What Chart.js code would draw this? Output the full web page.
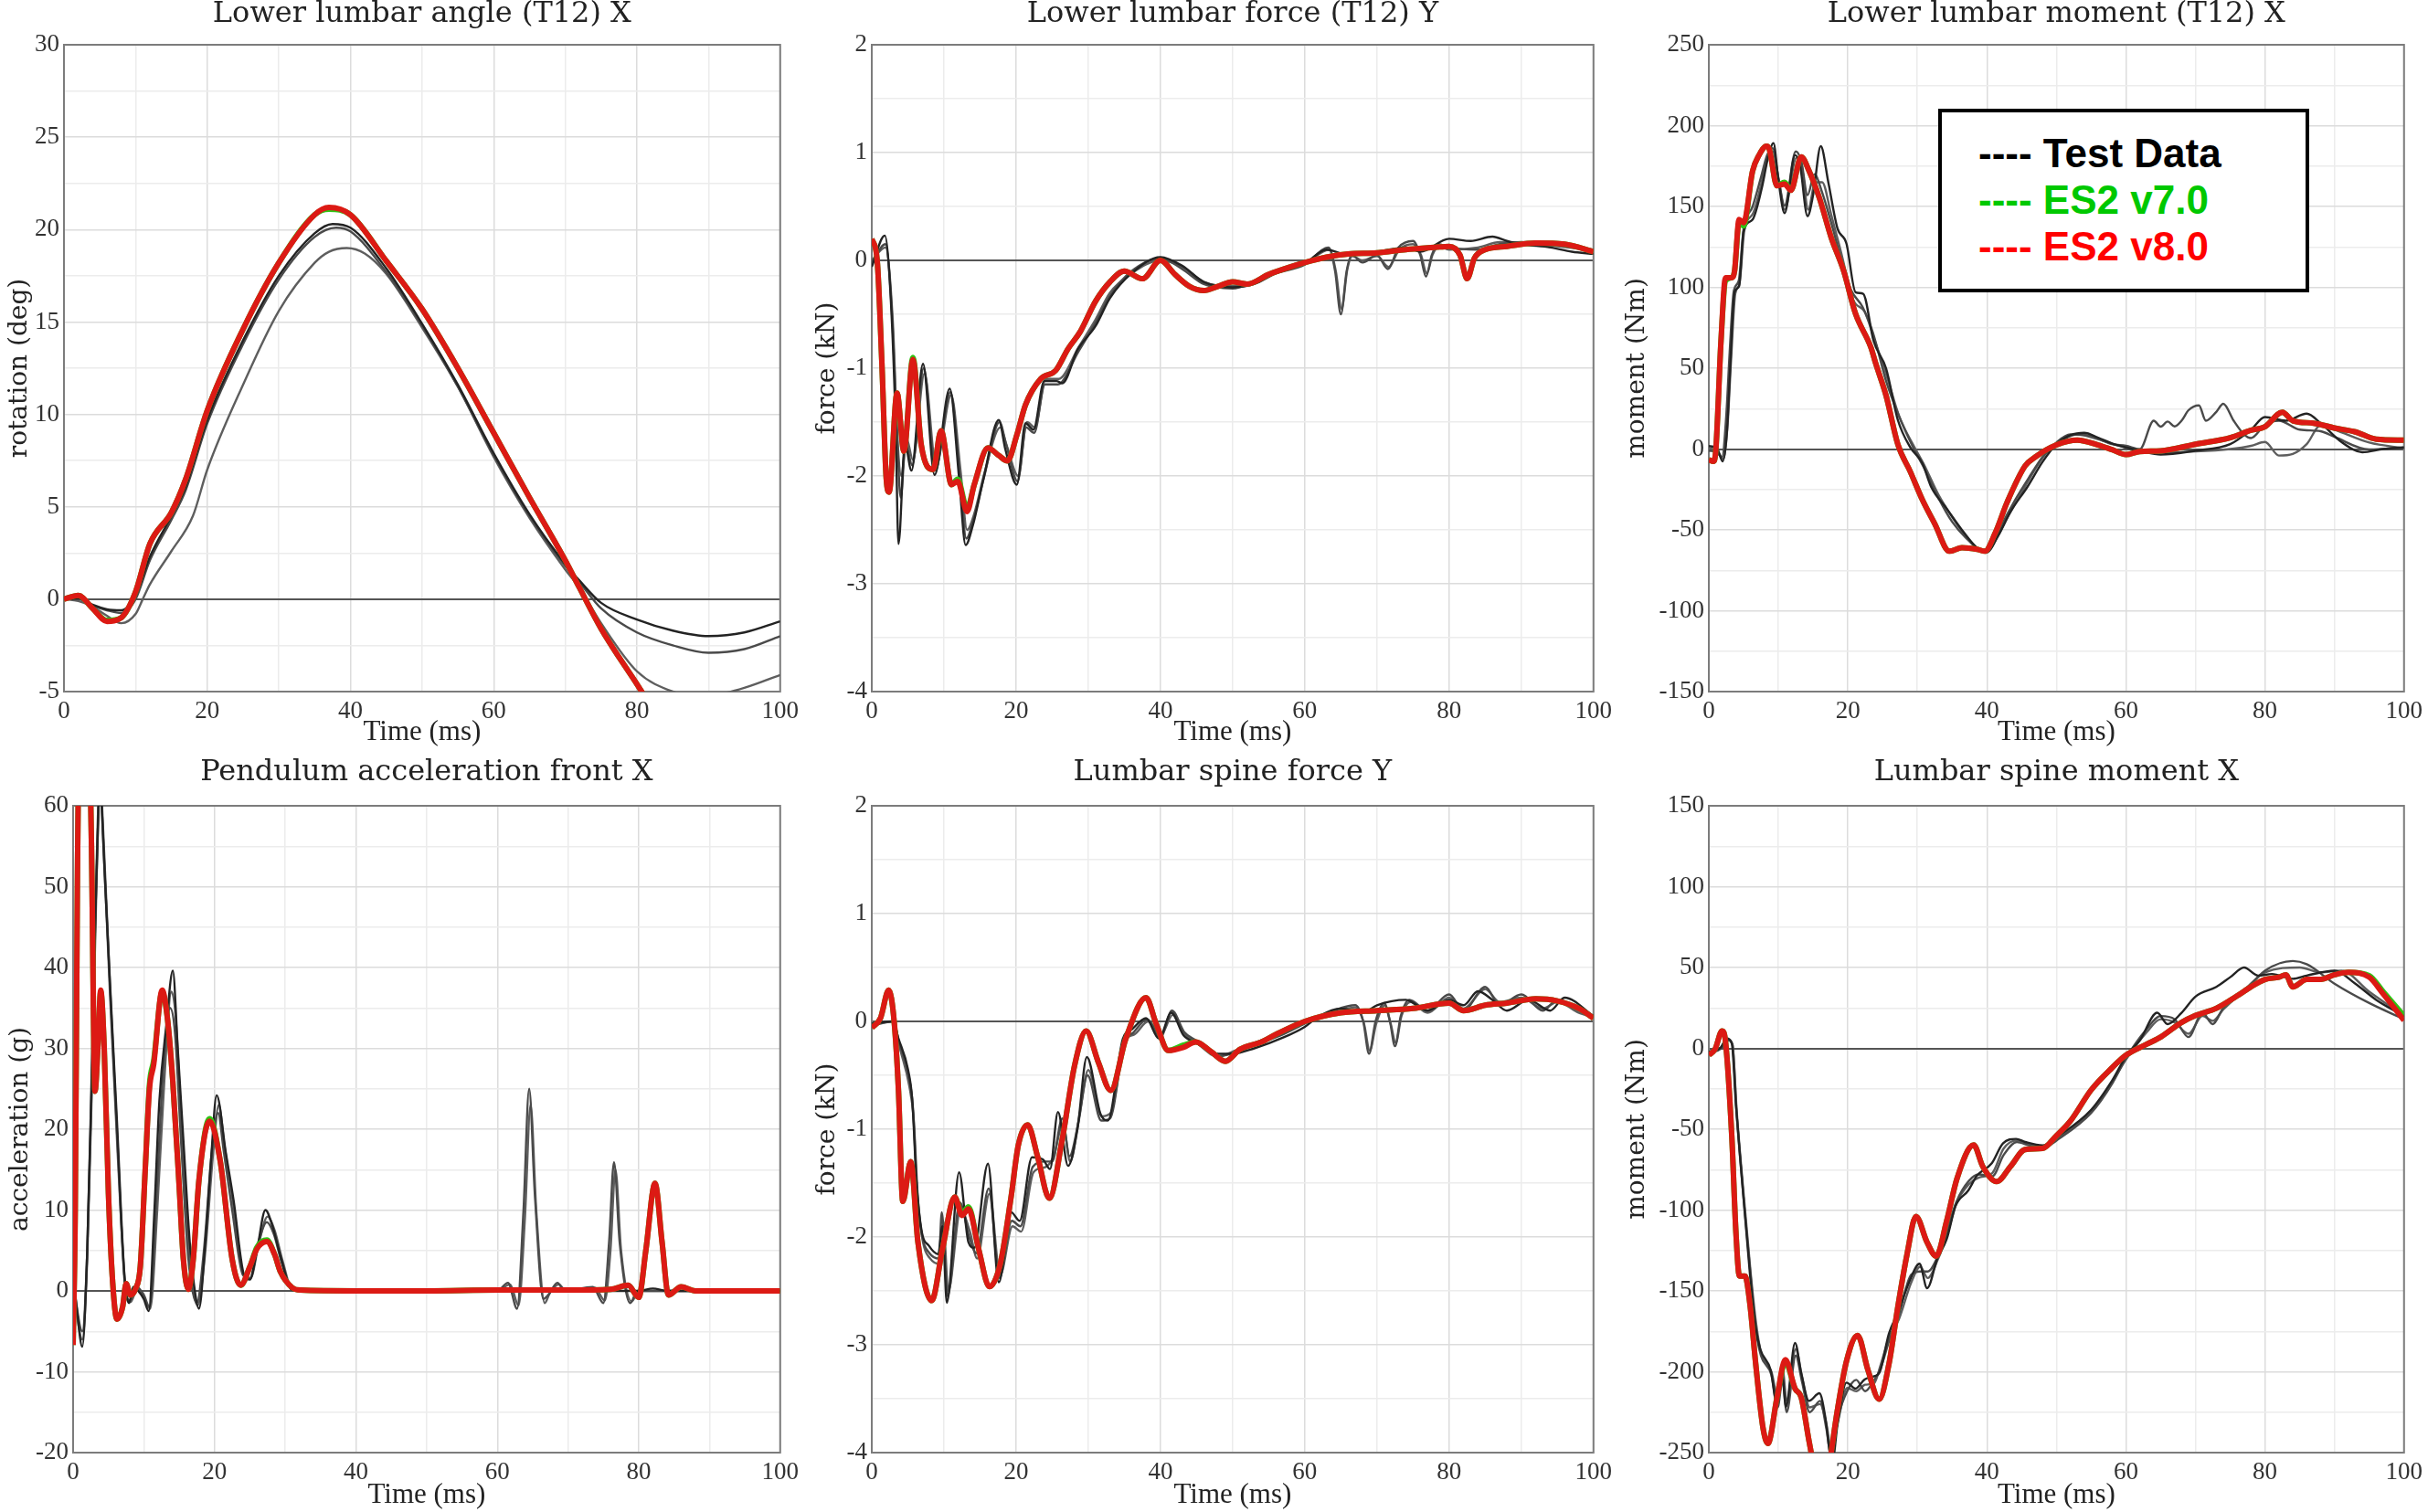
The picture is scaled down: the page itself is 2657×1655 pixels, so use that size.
<!DOCTYPE html>
<html>
<head>
<meta charset="utf-8">
<script src="https://cdn.jsdelivr.net/npm/chart.js@4.4.1/dist/chart.umd.min.js"></script>
<style>
  html, body { margin: 0; padding: 0; background: #fff; }
  body { width: 2657px; height: 1655px; position: relative; overflow: hidden; }
  .panel { position: absolute; }
  .legend {
    position: absolute; left: 2121px; top: 119px; width: 406px; height: 201px;
    box-sizing: border-box; border: 4px solid #000; background: #fff;
    padding: 19px 0 0 40px; font: bold 44px "Liberation Sans", Arial, sans-serif;
    line-height: 51px; white-space: pre; z-index: 5;
  }
</style>
</head>
<body>
<div class="panel" style="left:0;top:0;width:880px;height:830px"><canvas id="c1"></canvas></div>
<div class="panel" style="left:880px;top:0;width:890px;height:830px"><canvas id="c2"></canvas></div>
<div class="panel" style="left:1770px;top:0;width:887px;height:830px"><canvas id="c3"></canvas></div>
<div class="panel" style="left:0;top:830px;width:880px;height:825px"><canvas id="c4"></canvas></div>
<div class="panel" style="left:880px;top:830px;width:890px;height:825px"><canvas id="c5"></canvas></div>
<div class="panel" style="left:1770px;top:830px;width:887px;height:825px"><canvas id="c6"></canvas></div>
<div class="legend"><div style="color:#000">---- Test Data</div><div style="color:#00c800">---- ES2 v7.0</div><div style="color:#ff0000">---- ES2 v8.0</div></div>
<script>
// ─── Panel labels and ranges ─────────────────────────────────────────────────
const panelTitles = ['Lower lumbar angle (T12) X', 'Lower lumbar force (T12) Y', 'Lower lumbar moment (T12) X',
  'Pendulum acceleration front X', 'Lumbar spine force Y', 'Lumbar spine moment X'];
const yTitles = ['rotation (deg)', 'force (kN)', 'moment (Nm)', 'acceleration (g)', 'force (kN)', 'moment (Nm)'];
const yMin = [-5, -4, -150, -20, -4, -250];
const yMax = [30, 2, 250, 60, 2, 150];
const yMajor = [5, 1, 50, 10, 1, 50];
const xTitle = 'Time (ms)';
const xMin = 0, xMax = 100, xMajor = 20;

// ─── Series: [time ms, value] ────────────────────────────────────────────────
// Lower lumbar angle (T12) X
const angleTest1 = [[0,0],[2,0.05],[4,-0.3],[6,-0.55],[8,-0.6],[10,0.2],[12,2.3],[15,4.5],[17,6.1],[20,9.7],[25,14.0],[30,17.5],[35,19.8],[37.5,20.3],[40,20.1],[45,17.9],[50,14.9],[55,11.6],[60,7.9],[65,4.6],[70,1.9],[72,1.0],[75,-0.2],[80,-1.1],[85,-1.7],[90,-2.0],[95,-1.8],[100,-1.2]];
const angleTest2 = [[0,0],[2,0],[4,-0.35],[6,-0.6],[8,-0.75],[10,0.0],[12,2.1],[15,4.3],[17,5.9],[20,9.5],[25,13.8],[30,17.3],[35,19.6],[38,20.1],[40,19.9],[45,17.7],[50,14.8],[55,11.5],[60,7.8],[65,4.5],[70,1.8],[72,0.9],[75,-0.5],[80,-1.8],[85,-2.5],[90,-2.9],[95,-2.7],[100,-2.0]];
const angleTest3 = [[0,0],[2,-0.1],[4,-0.4],[6,-0.9],[8,-1.3],[10,-0.8],[11,0],[12,0.8],[15,2.6],[18,4.5],[20,7.0],[25,11.6],[30,15.6],[35,18.2],[37,18.8],[39.5,19.0],[42,18.7],[45,17.6],[50,14.7],[55,11.5],[60,7.7],[65,4.4],[70,1.6],[72,0.6],[75,-1.3],[80,-3.9],[85,-5.0],[88,-5.2],[92,-5.1],[95,-4.8],[100,-4.1]];
const angleV7 = [[0,0],[2,0.2],[4,-0.5],[6,-1.15],[8,-1.0],[10,0.4],[12,3.0],[15,4.7],[17,6.5],[20,10.2],[25,14.6],[30,18.2],[35,20.8],[37,21.1],[40,20.8],[45,18.3],[50,15.7],[55,12.5],[60,9.0],[65,5.5],[70,2.1],[72,0.6],[75,-1.6],[80,-4.6],[85,-7.6]];
const angleV8 = [[0,0],[2,0.2],[4,-0.5],[6,-1.2],[8,-1.0],[10,0.4],[12,3.0],[15,4.7],[17,6.5],[20,10.2],[25,14.6],[30,18.2],[35,20.8],[37,21.2],[40,20.8],[45,18.3],[50,15.7],[55,12.5],[60,9.0],[65,5.5],[70,2.1],[72,0.6],[75,-1.6],[80,-4.6],[85,-7.6]];

// Lower lumbar force (T12) Y
const lumForceTest1 = [[0,-0.06],[1.8,0.23],[2.65,-0.38],[3.3,-1.51],[3.7,-2.63],[4.6,-1.7],[5.5,-1.95],[7.1,-0.96],[8.7,-1.99],[10.8,-1.19],[12.1,-2.02],[13,-2.64],[14,-2.46],[15.5,-2.02],[17.6,-1.48],[18.5,-1.75],[20.1,-2.08],[21.3,-1.51],[22.4,-1.57],[23.9,-1.12],[25.6,-1.12],[26.4,-1.14],[28.5,-0.83],[31,-0.61],[33,-0.35],[36,-0.12],[40,0.03],[43,-0.05],[46,-0.2],[50,-0.25],[53,-0.22],[56,-0.12],[60,-0.03],[63,0.1],[66,0.05],[70,0.08],[74,0.12],[76,0.08],[80,0.2],[83,0.18],[86,0.22],[88,0.18],[90,0.15],[94,0.12],[97,0.08],[100,0.06]];
const lumForceTest2 = [[0,-0.02],[1.9,0.15],[2.8,-0.5],[3.5,-1.6],[4.0,-2.2],[4.7,-1.7],[5.6,-1.9],[7.2,-1.0],[8.8,-1.95],[10.9,-1.22],[12.2,-2.0],[13.1,-2.58],[14.1,-2.4],[15.6,-2.0],[17.7,-1.5],[18.6,-1.7],[20.2,-2.05],[21.4,-1.55],[22.5,-1.6],[24,-1.15],[25.8,-1.15],[28.6,-0.85],[31,-0.58],[33,-0.33],[36,-0.1],[40,0.02],[43,-0.08],[46,-0.22],[50,-0.26],[53,-0.2],[56,-0.12],[60,-0.04],[63.3,0.12],[64.2,-0.1],[65,-0.5],[65.8,-0.1],[66.5,0.05],[68,-0.02],[70,0.05],[71.5,-0.08],[73,0.12],[75,0.18],[76,0.05],[76.8,-0.15],[77.6,0.05],[78.5,0.15],[80,0.12],[84,0.1],[87,0.15],[90,0.17],[95,0.15],[100,0.1]];
const lumForceTest3 = [[0,0],[1.9,0.12],[2.9,-0.55],[3.6,-1.7],[4.1,-2.0],[4.8,-1.65],[5.7,-1.85],[7.3,-1.05],[8.9,-1.9],[11,-1.25],[12.3,-1.95],[13.2,-2.5],[14.2,-2.35],[15.7,-1.95],[17.8,-1.55],[18.7,-1.72],[20.3,-2.0],[21.5,-1.5],[22.6,-1.55],[24.1,-1.1],[25.9,-1.1],[28.7,-0.8],[31,-0.55],[33,-0.3],[36,-0.12],[40,0],[43,-0.06],[46,-0.2],[50,-0.24],[53,-0.21],[56,-0.1],[60,-0.03],[63.4,0.1],[64.3,-0.1],[65.1,-0.45],[65.9,-0.08],[66.6,0.04],[68,0],[70,0.04],[71.6,-0.06],[73.1,0.1],[75,0.15],[76.1,0.05],[76.9,-0.12],[77.7,0.05],[78.6,0.13],[80,0.1],[84,0.12],[87,0.17],[90,0.15],[95,0.13],[100,0.09]];
const lumForceV7 = [[0,0.2],[0.75,0],[1.4,-0.95],[2.0,-2.02],[2.4,-2.15],[3.5,-1.23],[4.45,-1.77],[5.7,-0.9],[6.85,-1.71],[8.5,-1.94],[9.6,-1.58],[11.05,-2.08],[11.9,-2.03],[13.2,-2.3],[14.2,-2.08],[16.1,-1.74],[17.6,-1.81],[18.8,-1.86],[20.1,-1.62],[21.3,-1.34],[23.4,-1.1],[25.5,-1.02],[27.2,-0.82],[28.9,-0.66],[31,-0.38],[33,-0.2],[35,-0.1],[37.5,-0.17],[40,0.0],[42,-0.13],[44,-0.24],[46,-0.28],[48,-0.24],[50,-0.2],[52,-0.22],[55,-0.13],[58,-0.06],[60,-0.02],[63,0.03],[66,0.06],[70,0.07],[74,0.1],[78,0.12],[80,0.13],[81.5,0.05],[82.5,-0.17],[83.5,0.02],[85,0.1],[88,0.13],[92,0.16],[96,0.15],[100,0.08]];
const lumForceV8 = [[0,0.2],[0.75,0],[1.4,-0.95],[2.0,-2.02],[2.4,-2.15],[3.5,-1.23],[4.45,-1.77],[5.7,-0.92],[6.85,-1.71],[8.5,-1.94],[9.6,-1.58],[11.05,-2.08],[11.9,-2.05],[13.2,-2.33],[14.2,-2.08],[16.1,-1.74],[17.6,-1.81],[18.8,-1.86],[20.1,-1.62],[21.3,-1.34],[23.4,-1.1],[25.5,-1.02],[27.2,-0.82],[28.9,-0.66],[31,-0.38],[33,-0.2],[35,-0.1],[37.5,-0.17],[40,0.0],[42,-0.13],[44,-0.24],[46,-0.28],[48,-0.24],[50,-0.2],[52,-0.22],[55,-0.13],[58,-0.06],[60,-0.02],[63,0.03],[66,0.06],[70,0.07],[74,0.1],[78,0.12],[80,0.13],[81.5,0.05],[82.5,-0.17],[83.5,0.02],[85,0.1],[88,0.13],[92,0.16],[96,0.15],[100,0.08]];

// Lower lumbar moment (T12) X
const lumMomentTest1 = [[0,1.8],[1.1,0.9],[2,-7.6],[2.6,10.3],[3.05,48],[3.7,97],[4.35,100.7],[5,134.6],[6.3,142],[7.6,161],[8.5,179.8],[9.3,189.2],[10,166.6],[10.9,145.9],[12.4,181.7],[13.1,176],[14.2,144],[15,157],[16.1,187.3],[17.2,164.7],[18.5,136.5],[19.8,127],[21.1,97],[22.2,96],[23.7,66.8],[25.5,49.8],[27.2,17.8],[29,0.9],[30.7,-8.6],[32,-23.6],[34.2,-36.8],[36.4,-50],[38.6,-61.3],[39.9,-64.1],[41.6,-53.8],[43.4,-38.7],[45.8,-23.6],[48,-8],[50,3],[52,8.5],[54,10],[56,7],[58,3.5],[60,1],[62,-1],[65,-3.4],[70,-1],[75,3],[78,12],[80,19.8],[83,17.5],[86,21.9],[88,16],[91,4.4],[94,-2],[97,0],[100,1]];
const lumMomentTest2 = [[0,-1],[1.1,-2],[1.9,-5],[2.5,20],[3,60],[3.6,98],[4.3,104],[5,136],[6.3,150],[7.5,168],[8.4,182],[9.2,186],[10,168],[10.9,150.6],[12.5,184],[13.3,178],[14.2,157],[15.2,170],[16.2,160],[17.6,140],[19,118],[20.5,98],[22.1,88],[23.6,72],[25.5,42],[27.2,22],[29.5,0],[31,-12],[33,-30],[35,-45],[37,-55],[39.5,-63],[40.5,-62],[42,-48],[44,-32],[46,-18],[48,-5],[50,4],[52,9],[55,8],[58,3],[60,2],[62,0],[64,17.5],[65,13.8],[66,17],[67,14],[68,17.5],[69,24],[70.5,27],[71.5,17.5],[73,23],[74,28],[75.5,17.5],[77,9],[78,6.8],[80,15],[82,17.5],[85,12],[88,11],[90,7.5],[95,-0.3],[100,1]];
const lumMomentTest3 = [[0,0.5],[1.2,-1],[2.1,-6],[2.7,15],[3.2,55],[3.8,96],[4.4,102],[5.1,135],[6.4,146],[7.6,165],[8.5,181],[9.2,184],[10.1,165],[10.9,148],[12.6,180],[13.4,174],[14.3,148],[15.3,165],[16.3,165],[17.6,145],[19,122],[20.8,92],[22.4,85],[23.8,68],[25.6,45],[27.4,20],[29.6,1],[31,-10],[33,-28],[35,-42],[37,-54],[39.5,-63],[41,-58],[43,-42],[45,-27],[47,-12],[49,0],[51,6],[53,9],[56,6],[59,2],[62,-1],[65,-2],[70,-1.5],[75,0],[78,2],[80,4.4],[82,-4],[84,-3],[86,3],[88,14.6],[90,12],[95,4],[100,0.5]];
const lumMomentV7 = [[0,-6.7],[0.65,-7.6],[1,-1],[1.75,66.8],[2.4,104],[3.3,106],[3.7,110],[4.35,140],[5,138],[6.3,172],[7.2,181.6],[8.3,187.3],[8.7,185.4],[9.8,162.8],[10.9,165],[11.8,160],[13.3,180.7],[14.4,172.2],[15.9,155.3],[17.6,130.8],[19.4,110.1],[21.1,83.7],[23.3,63],[24,53],[25.5,33],[27.2,2.7],[29,-14.2],[30.7,-31.2],[32.5,-46.2],[34.6,-63.2],[36.4,-61],[38.6,-62],[39.7,-63.2],[41.2,-51.9],[42.9,-33],[45.5,-10.4],[47,-4.8],[50,2.5],[53,5.5],[56,2.5],[58,-0.4],[60,-3.4],[62,-1.5],[65,-1.1],[70,3],[75,7],[78,11.6],[80,13.8],[82.5,22.8],[84,17.5],[87,16],[90,13],[93,10.6],[96,6.1],[100,5.5]];
const lumMomentV8 = [[0,-6.7],[0.65,-7.6],[1,-1],[1.75,66.8],[2.4,106],[3.3,106],[3.7,110],[4.35,142],[5,140],[6.3,172],[7.2,181.6],[8.3,187.3],[8.7,185.4],[9.8,162.8],[10.9,163.8],[11.8,160],[13.3,180.7],[14.4,172.2],[15.9,155.3],[17.6,130.8],[19.4,110.1],[21.1,83.7],[23.3,63],[24,53],[25.5,33],[27.2,2.7],[29,-14.2],[30.7,-31.2],[32.5,-46.2],[34.6,-63.2],[36.4,-61],[38.6,-62],[39.7,-63.2],[41.2,-51.9],[42.9,-33],[45.5,-10.4],[47,-4.8],[50,2.5],[53,5.5],[56,2.5],[58,-0.4],[60,-3.4],[62,-1.5],[65,-1.1],[70,3],[75,7],[78,11.6],[80,13.8],[82.5,22.8],[84,17.5],[87,16],[90,13],[93,10.6],[96,6.1],[100,5.5]];

// Pendulum acceleration front X
const accTest1 = [[0,2.4],[0.5,-2],[1.3,-6.9],[2,5],[2.6,25.9],[3.1,45],[3.6,60],[3.85,66],[4.06,60],[5,42],[6.2,21],[7.3,1.4],[7.9,-1.5],[8.5,0.5],[9.2,0],[10,-1],[10.7,-2.5],[11.5,10],[12.2,23.5],[13.2,33],[14.1,39.6],[14.8,30],[15.6,18.6],[16.5,6],[17.3,-0.5],[17.8,-2.2],[18.7,6],[19.5,16.1],[20.3,24.2],[21.6,17.1],[22.7,11.2],[24.2,1.9],[25,1.4],[26,5],[27.2,10],[28.2,8],[29.3,4.4],[31,0.1],[40,0],[60,0],[70,0],[80,0],[82,0.3],[84,0],[100,0]];
const accTest2 = [[0,1],[1.3,-5],[2,5],[2.7,28],[3.3,52],[3.8,64],[4.2,58],[5.2,38],[6.3,18],[7.3,1],[8,-1.2],[9,0.5],[10,-0.5],[10.8,-2],[11.8,12],[12.8,28],[13.7,35],[14.4,32],[15.3,18],[16.3,4],[17.5,-1.5],[18.5,5],[19.7,18],[20.5,22],[21.3,17.3],[22.5,10],[24,2],[25,1.5],[26.2,6],[27.4,8.5],[28.4,7],[29.5,3.5],[31,0.2],[40,0],[60,0],[61.5,1],[62.8,-2.2],[63.7,10],[64.5,25],[65.3,12],[66.5,-1],[67.2,-0.5],[68.5,1],[69.5,0],[73.5,0.5],[75,-1.5],[75.8,6],[76.5,15.9],[77.3,6],[78.8,-1.5],[79.8,0],[100,0]];
const accTest3 = [[0,0.5],[1.3,-6],[2,4],[2.7,27],[3.3,50],[3.8,63],[4.2,57],[5.2,37],[6.3,17],[7.4,0.5],[8.1,-1.4],[9.1,0.3],[10,-0.8],[10.9,-2.2],[11.9,10],[12.9,26],[13.9,37],[14.5,34],[15.4,19],[16.4,5],[17.6,-1.8],[18.6,4],[19.8,17],[20.6,23],[21.4,18],[22.6,11],[24.1,2],[25.1,1.6],[26.3,6],[27.5,9.2],[28.5,7.5],[29.6,3.8],[31,0.2],[40,0],[60,0],[61.8,0.8],[63,-1.8],[63.9,9],[64.7,23],[65.5,10],[66.7,-1.5],[67.4,-0.3],[68.7,0.8],[69.7,0],[73.8,0.4],[75.2,-1.2],[76,5],[76.7,15],[77.5,5],[79,-1.3],[80,0],[100,0]];
const accV7 = [[0,-6.7],[0.3,10],[0.6,50],[1,85],[1.6,92],[2.2,75],[2.6,55],[3.1,24.7],[3.5,30],[3.9,37],[4.4,30],[5.0,12],[5.6,1],[6.2,-3.5],[7,-2],[7.5,0.9],[8.1,-0.5],[8.8,0.2],[9.5,3],[10.2,15],[10.8,25.5],[11.4,28.5],[12.6,37],[13.3,34],[14.1,25.9],[15,13],[15.6,3.9],[16.3,0.2],[17,4],[17.8,13.7],[19.3,21.3],[20.8,16.1],[22.5,3.9],[23.7,0.7],[25,3],[26,5.4],[27.4,6.3],[28.5,4.5],[29.3,2.4],[31,0.4],[32.1,0.1],[40,0],[50,0],[60,0.1],[70,0.1],[76,0.2],[78.5,0.7],[80,-0.8],[81,5],[82.3,13.3],[83.3,6],[84.2,-0.5],[86,0.5],[88,0],[100,0]];
const accV8 = [[0,-6.7],[0.3,10],[0.6,50],[1,85],[1.6,92],[2.2,75],[2.6,55],[3.1,24.7],[3.5,30],[3.9,37.2],[4.4,30],[5.0,12],[5.6,1],[6.2,-3.5],[7,-2],[7.5,0.9],[8.1,-0.5],[8.8,0.2],[9.5,3],[10.2,15],[10.8,25],[11.4,28],[12.6,37.2],[13.3,34],[14.1,25.9],[15,13],[15.6,3.9],[16.3,0.2],[17,4],[17.8,13.7],[19.3,21],[20.8,16.1],[22.5,3.9],[23.7,0.7],[25,3],[26,5.2],[27.4,6.1],[28.5,4.5],[29.3,2.4],[31,0.4],[32.1,0.1],[40,0],[50,0],[60,0.1],[70,0.1],[76,0.2],[78.5,0.7],[80,-0.8],[81,5],[82.3,13.3],[83.3,6],[84.2,-0.5],[86,0.5],[88,0],[100,0]];

// Lumbar spine force Y
const spForceTest1 = [[0,-0.02],[2.9,0],[3.7,-0.16],[5,-0.44],[5.6,-0.72],[6.2,-1.49],[6.9,-1.94],[7.9,-2.08],[9.2,-2.16],[9.8,-1.9],[10.4,-2.61],[12.1,-1.4],[13.4,-2.05],[14.2,-2.1],[16.1,-1.32],[17.6,-2.42],[19.3,-1.77],[20.5,-1.85],[22.2,-1.26],[23.7,-1.28],[24.7,-1.37],[25.8,-0.84],[27.2,-1.34],[28.5,-1.0],[29.8,-0.33],[31.7,-0.86],[32.7,-0.92],[34.8,-0.16],[36.1,-0.07],[38,0.03],[39.8,-0.16],[41.5,0.08],[43.2,-0.13],[45,-0.2],[48,-0.3],[50,-0.3],[53,-0.25],[57,-0.15],[60,-0.05],[62,0.05],[65,0.12],[68,0.08],[70,0.15],[74,0.2],[77,0.1],[80,0.2],[82,0.15],[84,0.28],[86,0.2],[88,0.1],[91,0.2],[94,0.1],[96,0.22],[100,0.05]];
const spForceTest2 = [[0,-0.04],[3,0],[3.8,-0.2],[5.1,-0.5],[5.7,-0.8],[6.3,-1.6],[7,-2.0],[8,-2.15],[9.3,-2.2],[9.7,-1.77],[10.5,-2.55],[12.2,-1.68],[13.5,-2.0],[14.5,-2.15],[16.2,-1.55],[17.7,-2.38],[19.4,-1.85],[20.6,-1.9],[22.3,-1.35],[24,-1.3],[25,-1.3],[26.4,-0.9],[27.4,-1.25],[28.6,-0.95],[29.9,-0.5],[31.8,-0.92],[33,-0.9],[35,-0.2],[36.3,-0.1],[38.2,0.02],[40,-0.15],[41.6,0.1],[43.3,-0.1],[45,-0.18],[48,-0.32],[50,-0.3],[53,-0.22],[57,-0.12],[60,-0.02],[64,0.1],[67,0.15],[68.1,0.0],[68.9,-0.3],[69.8,0.0],[71,0.17],[71.8,0.0],[72.5,-0.23],[73.3,0.05],[74.5,0.2],[77,0.1],[80,0.25],[82,0.1],[85,0.32],[87,0.15],[90,0.25],[93,0.1],[95,0.2],[98,0.1],[100,0.05]];
const spForceTest3 = [[0,-0.03],[3,0],[3.9,-0.25],[5.2,-0.6],[5.8,-0.9],[6.4,-1.65],[7.1,-2.05],[8.1,-2.2],[9.4,-2.25],[9.9,-1.85],[10.6,-2.5],[12.3,-1.75],[13.6,-1.95],[14.6,-2.2],[16.3,-1.6],[17.8,-2.35],[19.5,-1.9],[20.7,-1.95],[22.4,-1.4],[24.1,-1.35],[25.2,-1.25],[26.5,-0.95],[27.5,-1.3],[28.7,-0.9],[30,-0.45],[31.9,-0.88],[33.1,-0.85],[35.1,-0.18],[36.4,-0.12],[38.3,0.0],[40.1,-0.12],[41.7,0.06],[43.4,-0.12],[45,-0.2],[48,-0.33],[50,-0.28],[53,-0.2],[57,-0.1],[60,0.0],[64,0.08],[67,0.13],[68.2,-0.02],[69,-0.27],[69.9,-0.02],[71.1,0.15],[71.9,-0.02],[72.6,-0.2],[73.4,0.05],[74.6,0.18],[77,0.08],[80,0.22],[82,0.12],[85,0.3],[87,0.18],[90,0.22],[93,0.12],[95,0.18],[98,0.08],[100,0.04]];
const spForceV7 = [[0,-0.06],[1.2,0.03],[2.35,0.29],[3.1,0],[3.7,-0.64],[4.3,-1.67],[5.4,-1.3],[6.4,-2.05],[8.3,-2.59],[9.8,-2.11],[11.5,-1.63],[12.5,-1.78],[13.4,-1.72],[14.8,-2.11],[16.3,-2.46],[17.8,-2.25],[19.3,-1.63],[20.3,-1.15],[21.6,-0.96],[23,-1.26],[24.6,-1.64],[26.4,-1.09],[28.1,-0.41],[29.7,-0.09],[31.4,-0.38],[33.1,-0.64],[35.2,-0.16],[38,0.22],[39.4,-0.02],[41.1,-0.27],[43.2,-0.22],[44.9,-0.19],[47,-0.28],[49,-0.37],[51,-0.26],[54,-0.19],[56,-0.12],[60,0.0],[65,0.08],[70,0.1],[75,0.12],[80,0.17],[82,0.1],[85,0.15],[88,0.17],[92,0.21],[95,0.19],[98,0.12],[100,0.03]];
const spForceV8 = [[0,-0.06],[1.2,0.03],[2.35,0.29],[3.1,0],[3.7,-0.64],[4.3,-1.67],[5.4,-1.3],[6.4,-2.05],[8.3,-2.59],[9.8,-2.11],[11.5,-1.63],[12.5,-1.8],[13.4,-1.74],[14.8,-2.11],[16.3,-2.46],[17.8,-2.25],[19.3,-1.63],[20.3,-1.15],[21.6,-0.96],[23,-1.26],[24.6,-1.64],[26.4,-1.09],[28.1,-0.41],[29.7,-0.09],[31.4,-0.38],[33.1,-0.64],[35.2,-0.16],[38,0.22],[39.4,-0.02],[41.1,-0.27],[43.2,-0.24],[44.9,-0.19],[47,-0.28],[49,-0.37],[51,-0.26],[54,-0.19],[56,-0.12],[60,0.0],[65,0.08],[70,0.1],[75,0.12],[80,0.17],[82,0.1],[85,0.15],[88,0.17],[92,0.21],[95,0.19],[98,0.12],[100,0.03]];

// Lumbar spine moment X
const spMomentTest1 = [[0,-2.3],[1.7,0.5],[2.6,6.1],[3.3,3.3],[3.9,-35.3],[4.8,-82.4],[5.9,-138.9],[6.75,-172.8],[7.4,-186],[8.9,-199.1],[9.8,-220],[10.5,-200],[11.1,-221.7],[12.4,-182.2],[13.3,-201],[14.4,-218],[15.9,-213.3],[16.8,-229.3],[17.4,-250],[17.8,-255],[18.5,-233],[19.8,-206.7],[21.1,-210.4],[22.4,-204.8],[23.7,-202.9],[24.6,-200],[25.9,-176.5],[27.2,-163.4],[29,-142.6],[30.3,-133.2],[31.4,-148.3],[32.9,-129.5],[34.2,-118.2],[35.5,-97.4],[37.3,-88],[38.6,-78.6],[40.7,-71.1],[42.3,-58.8],[44.2,-56],[45.5,-57.9],[48,-60],[50,-55],[55,-38],[58,-20],[60,-5],[62,5],[64.5,22],[66,15],[68,22],[70,32],[73,38],[75,44],[77,50],[79,45],[81,46],[84,43],[86,45],[90,48],[93,40],[96,30],[100,20]];
const spMomentTest2 = [[0,-3],[1.8,0],[2.7,5],[3.4,2],[4,-40],[4.9,-88],[6,-140],[6.8,-175],[7.5,-190],[9,-202],[9.9,-222],[10.6,-205],[11.2,-225],[12.5,-190],[13.4,-206],[14.5,-225],[16,-218],[16.9,-235],[17.6,-252],[18.6,-228],[19.9,-212],[21.2,-205],[22.5,-212],[23.8,-205],[24.7,-198],[26,-180],[27.3,-165],[29.1,-140],[30.4,-138],[31.5,-138],[33,-128],[34.3,-112],[35.6,-95],[37.4,-82],[38.8,-78],[40.8,-79],[42.4,-66],[44.3,-58],[46,-60],[48,-62],[50,-57],[55,-40],[58,-22],[60,-6],[63,12],[65,20],[67,18],[69,7],[71,22],[72.5,15],[74,25],[77,35],[80,48],[84,54],[86,52],[90,40],[95,28],[100,18]];
const spMomentTest3 = [[0,-2],[1.8,0.5],[2.7,5.5],[3.4,2.5],[4,-38],[4.9,-85],[6,-138],[6.8,-170],[7.5,-188],[9,-200],[9.9,-215],[10.6,-198],[11.2,-218],[12.5,-186],[13.4,-203],[14.5,-222],[16,-220],[16.9,-232],[17.6,-248],[18.6,-230],[19.9,-210],[21.2,-212],[22.5,-208],[23.8,-207],[24.7,-196],[26,-178],[27.3,-168],[29.1,-145],[30.4,-135],[31.5,-142],[33,-130],[34.3,-115],[35.6,-96],[37.4,-84],[38.8,-80],[40.8,-77],[42.4,-62],[44.3,-57],[46,-59],[48,-61],[50,-56],[55,-39],[58,-21],[60,-7],[63,10],[65,18],[67,16],[69,9],[71,20],[72.5,17],[74,24],[77,36],[80,47],[85,50],[88,47],[91,48],[95,35],[100,20]];
const spMomentV7 = [[0,-4.2],[0.9,-0.5],[1.9,10.8],[2.4,4.2],[3.3,-54],[3.9,-114],[4.4,-140.8],[5.2,-140.8],[5.9,-157.7],[6.75,-195.4],[7.8,-234.9],[8.5,-244.3],[9.8,-216.1],[11,-194],[12.4,-210.4],[13.3,-216],[14.4,-242.5],[15.3,-262],[16.5,-275],[17.2,-262],[17.6,-250],[18.5,-223.6],[19.8,-193.5],[21.4,-177.5],[22.9,-199.1],[24.5,-217],[25.9,-195.4],[27.2,-159.6],[28.5,-127.6],[29.8,-104],[31.4,-120],[32.7,-128.5],[34.2,-106.9],[35.7,-80.5],[38.1,-59.8],[39.4,-73],[41.4,-82.4],[43.4,-73],[45.5,-62.6],[48,-61.9],[50,-54],[52,-45],[55,-25.7],[58,-12],[60,-4.2],[63,2.6],[65,7],[68,16],[70,20.3],[73,24.8],[76,32.5],[78,38.1],[80,42.6],[82,44],[83,45.5],[84,38],[86,42.6],[88,42.6],[90,45.5],[92,47],[95,45],[97,35],[100,20]];
const spMomentV8 = [[0,-4.2],[0.9,-0.5],[1.9,10.8],[2.4,4.2],[3.3,-54],[3.9,-114],[4.4,-140.8],[5.2,-140.8],[5.9,-157.7],[6.75,-195.4],[7.8,-234.9],[8.5,-244.3],[9.8,-216.1],[11,-192.5],[12.4,-210.4],[13.3,-216],[14.4,-242.5],[15.3,-262],[16.5,-275],[17.2,-262],[17.6,-250],[18.5,-223.6],[19.8,-193.5],[21.4,-177.5],[22.9,-199.1],[24.5,-217],[25.9,-195.4],[27.2,-159.6],[28.5,-127.6],[29.8,-104],[31.4,-120],[32.7,-128.5],[34.2,-106.9],[35.7,-80.5],[38.1,-59.8],[39.4,-73],[41.4,-82.4],[43.4,-73],[45.5,-62.6],[48,-61.9],[50,-54],[52,-45],[55,-25.7],[58,-12],[60,-4.2],[63,2.6],[65,7],[68,16],[70,20.3],[73,24.8],[76,32.5],[78,38.1],[80,42.6],[82,44],[83,45.5],[84,38],[86,42.6],[88,42.6],[90,45.5],[92,47],[95,44],[97,33.7],[100,17.3]];

// ─── Look ────────────────────────────────────────────────────────────────────
const SERIF = '"DejaVu Serif", "Liberation Serif", serif';
const TICK_SERIF = '"Liberation Serif", "DejaVu Serif", serif';
const TEST_COLORS = ['#232323', '#4a4a4a', '#5e5e5e'];
const V7_COLOR = '#2fc414';
const V8_COLOR = '#dc1a14';

// Canvas layout: title gap, x-axis height, bottom padding per row; per panel y-axis width etc.
const layoutTop = { titleGap: 17, xHeight: 63, bottom: 10 };
const layoutBottom = { titleGap: 20, xHeight: 65, bottom: 0 };
const yAxisWidth = [70, 74, 100, 80, 74, 100];
const rightPad = [21, 23, 22, 21, 23, 22];
const yTitlePad = [5, 9, 5, 6, 9, 5];

const panels = [
  { tests: [angleTest1, angleTest2, angleTest3], v7: angleV7, v8: angleV8 },
  { tests: [lumForceTest1, lumForceTest2, lumForceTest3], v7: lumForceV7, v8: lumForceV8 },
  { tests: [lumMomentTest1, lumMomentTest2, lumMomentTest3], v7: lumMomentV7, v8: lumMomentV8 },
  { tests: [accTest1, accTest2, accTest3], v7: accV7, v8: accV8 },
  { tests: [spForceTest1, spForceTest2, spForceTest3], v7: spForceV7, v8: spForceV8 },
  { tests: [spMomentTest1, spMomentTest2, spMomentTest3], v7: spMomentV7, v8: spMomentV8 },
];

function toPoints(pairs) {
  return pairs.map(p => ({ x: p[0], y: p[1] }));
}

function lineSet(pairs, color, width) {
  return {
    data: toPoints(pairs),
    borderColor: color,
    backgroundColor: color,
    borderWidth: width,
    pointRadius: 0,
    cubicInterpolationMode: 'monotone',
    fill: false,
  };
}

function isMajor(v, step) {
  const r = v / step;
  return Math.abs(r - Math.round(r)) < 1e-6;
}

// Frame round the plot area (top and right edges included)
const framePlugin = {
  id: 'frame',
  beforeDatasetsDraw(chart) {
    const { ctx, chartArea: a } = chart;
    ctx.save();
    ctx.strokeStyle = '#7c7c7c';
    ctx.lineWidth = 2;
    ctx.strokeRect(a.left, a.top, a.right - a.left, a.bottom - a.top);
    ctx.restore();
  }
};

function makePanel(i) {
  const p = panels[i];
  const lay = i < 3 ? layoutTop : layoutBottom;
  const major = yMajor[i];
  const datasets = [
    lineSet(p.v8, V8_COLOR, 6),
    lineSet(p.v7, V7_COLOR, 6),
    ...p.tests.map((d, k) => lineSet(d, TEST_COLORS[k], 2.4)),
  ];

  return new Chart(document.getElementById('c' + (i + 1)), {
    type: 'line',
    data: { datasets },
    plugins: [framePlugin],
    options: {
      responsive: true,
      maintainAspectRatio: false,
      animation: false,
      events: [],
      layout: { padding: { left: 0, right: rightPad[i], top: 0, bottom: lay.bottom } },
      plugins: {
        legend: { display: false },
        tooltip: { enabled: false },
        title: {
          display: true,
          fullSize: false,
          text: panelTitles[i],
          color: '#222',
          font: { family: SERIF, size: 32, weight: 'normal', lineHeight: 1.0 },
          padding: { top: 0, bottom: lay.titleGap },
        },
      },
      scales: {
        x: {
          type: 'linear',
          min: xMin,
          max: xMax,
          border: { display: false },
          grid: {
            drawTicks: false,
            color: c => isMajor(c.tick.value, xMajor) ? '#dcdcdc' : '#ececec',
            lineWidth: 1.5,
          },
          ticks: {
            stepSize: 10,
            autoSkip: false,
            maxRotation: 0,
            padding: 6,
            color: '#333',
            font: { family: TICK_SERIF, size: 27 },
            callback: v => isMajor(v, xMajor) ? String(v) : '',
          },
          title: {
            display: true,
            text: xTitle,
            color: '#222',
            font: { family: TICK_SERIF, size: 31 },
            padding: { top: 0, bottom: 0 },
          },
          afterFit: s => { s.height = lay.xHeight; },
        },
        y: {
          type: 'linear',
          min: yMin[i],
          max: yMax[i],
          border: { display: false },
          grid: {
            drawTicks: false,
            color: c => c.tick.value === 0 ? '#555' : (isMajor(c.tick.value, major) ? '#dcdcdc' : '#ececec'),
            lineWidth: c => c.tick.value === 0 ? 2 : 1.5,
          },
          ticks: {
            stepSize: major / 2,
            autoSkip: false,
            padding: 5,
            color: '#333',
            font: { family: TICK_SERIF, size: 27 },
            callback: v => isMajor(v, major) ? String(v) : '',
          },
          title: {
            display: true,
            text: yTitles[i],
            color: '#222',
            font: { family: SERIF, size: 28 },
            padding: { top: yTitlePad[i], bottom: 0 },
          },
          afterFit: s => { s.width = yAxisWidth[i]; },
        },
      },
    },
  });
}

panels.forEach((_, i) => makePanel(i));
</script>
</body>
</html>
